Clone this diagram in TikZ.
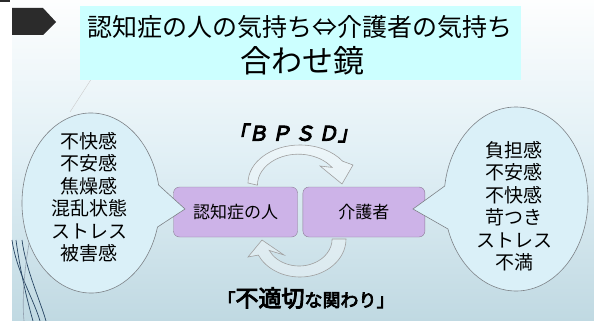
\documentclass[tikz,border=0pt]{standalone}
\usepackage{fontspec}
\setmainfont{Noto Sans CJK JP}
\newfontfamily\jpbold[FakeBold=4]{Noto Sans CJK JP}
\newfontfamily\jpboldsl[FakeBold=5,FakeSlant=0.2]{Noto Sans CJK JP}
\usetikzlibrary{positioning}
\definecolor{bgtop}{RGB}{253,254,254}
\definecolor{bgmid}{RGB}{224,239,245}
\definecolor{bgbot}{RGB}{192,217,226}
\definecolor{titlefill}{RGB}{204,255,255}
\definecolor{boxfill}{RGB}{205,179,232}
\definecolor{boxline}{RGB}{140,125,150}
\definecolor{bubblefill}{RGB}{218,240,248}
\definecolor{bubbleline}{RGB}{125,130,135}
\definecolor{tagdark}{RGB}{43,43,43}
\definecolor{deco}{RGB}{38,68,98}
\tikzset{
  person/.style={draw=boxline, fill=boxfill, rounded corners=6pt, minimum height=50pt, inner sep=0pt, font=\fontsize{17}{20}\selectfont},
  bubble/.style={draw=bubbleline, fill=bubblefill, line width=0.6pt},
  feel/.style={align=center, inner sep=0pt, font=\fontsize{19}{22.5}\selectfont},
  turn/.style={draw=gray!75, fill=white, fill opacity=0.35, line width=0.6pt}
}
\begin{document}
\begin{tikzpicture}[x=1pt, y=-1pt]
        \useasboundingbox (0,0) rectangle (594,321);
        \shade[top color=bgtop, bottom color=bgbot, middle color=bgmid] (12,0) rectangle (594,321);
        \fill[tagdark] (0,0) rectangle (10,2);
        \fill[tagdark] (12,8) -- (43,8) -- (56,22) -- (43,35) -- (12,35) -- cycle;
        \draw[gray!40] (92,78) -- (70,112);
        \foreach \a/\b in {12/40, 16/33, 22/46}
            {\draw[deco, line width=0.7pt] (\a,240) .. controls (\a+4,270) and (\b-6,300) .. (\b,321);};
        \draw[deco!50, line width=0.6pt] (30,238) .. controls (24,270) and (22,300) .. (24,321);
        \node[fill=titlefill, minimum width=441pt, minimum height=74pt] (title) at (300.5,43) {};
        \node[font=\fontsize{25}{28}\selectfont, inner sep=0pt] (titleA) at (299.5,27) {認知症の人の気持ち⇔介護者の気持ち};
        \node[font=\fontsize{31}{34}\selectfont, inner sep=0pt] (titleB) at (302.5,61) {合わせ鏡};
        \node[person, minimum width=124pt] (patient) at (235.5,212) {認知症の人};
        \node[person, minimum width=122pt, right=5pt of patient] (carer) {介護者};
        \coordinate (lefttip) at (185,209);
        \coordinate (righttip) at (413,209);
        \draw[bubble] (91,203) ++(15.5:69 and 90) arc[start angle=15.5, end angle=348.5, x radius=69, y radius=90] -- (lefttip) -- cycle;
        \draw[bubble] (516,199) ++(188.1:72 and 92) arc[start angle=188.1, end angle=521, x radius=72, y radius=92] -- (righttip) -- cycle;
        \node[feel] (leftfeel) at (89,197) {不快感\\不安感\\焦燥感\\混乱状態\\ストレス\\被害感};
        \node[feel] (rightfeel) at (514,206) {負担感\\不安感\\不快感\\苛つき\\ストレス\\不満};
        \draw[turn] (248,183) arc[start angle=180, end angle=325, x radius=52, y radius=38] -- (353,165) -- (342,184) -- (320,166) -- (332,167.4) arc[start angle=325, end angle=180, x radius=41, y radius=31] -- cycle;
        \draw[turn] (333,239) -- (346,239) arc[start angle=0, end angle=155, x radius=46, y radius=38] -- (248,257) -- (262,240) -- (284,255) -- (269.2,250.4) arc[start angle=155, end angle=0, x radius=33, y radius=27] -- cycle;
        \node[font=\fontsize{20}{22}\jpboldsl, inner sep=0pt] (bpsd) at (293,133) {「Ｂ\,Ｐ\,Ｓ\,Ｄ」};
        \node[font=\fontsize{18}{22}\jpbold, inner sep=0pt] (bad) at (306,298) {「{\fontsize{23}{24}\selectfont 不適切}な関わり」};
\end{tikzpicture}
\end{document}
